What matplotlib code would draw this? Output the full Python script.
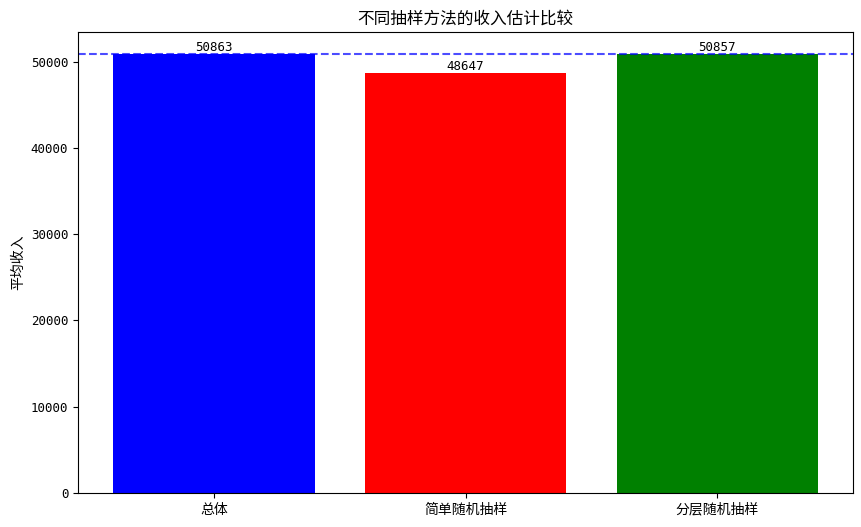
import matplotlib
matplotlib.use('Agg')
import matplotlib.pyplot as plt

plt.rcParams['font.family'] = ['Noto Sans CJK SC', 'DejaVu Sans']
plt.rcParams['axes.unicode_minus'] = False

# data
methods = ['总体', '简单随机抽样', '分层随机抽样']
mean_income = [50863, 48647, 50857]
bar_colors = ['blue', 'red', 'green']
population_mean = 50863

fig, ax = plt.subplots(figsize=(8.62, 5.27), dpi=100)
fig.subplots_adjust(left=0.0905, right=0.9896, bottom=0.0645, top=0.939)

bars = ax.bar(methods, mean_income, color=bar_colors, width=0.8)
ax.axhline(population_mean, color='blue', linestyle='--', alpha=0.7, linewidth=1.5)

for b, v in zip(bars, mean_income):
    ax.text(b.get_x() + b.get_width() / 2, v, str(v),
            ha='center', va='bottom', fontsize=9, family='DejaVu Sans Mono')

ax.set_title('不同抽样方法的收入估计比较', fontsize=12)
ax.set_ylabel('平均收入', fontsize=10)
for lbl in ax.get_yticklabels():
    lbl.set_fontfamily('DejaVu Sans Mono')
    lbl.set_fontsize(9)
ax.tick_params(axis='x', labelsize=10)

fig.savefig('out.png', dpi=100)
